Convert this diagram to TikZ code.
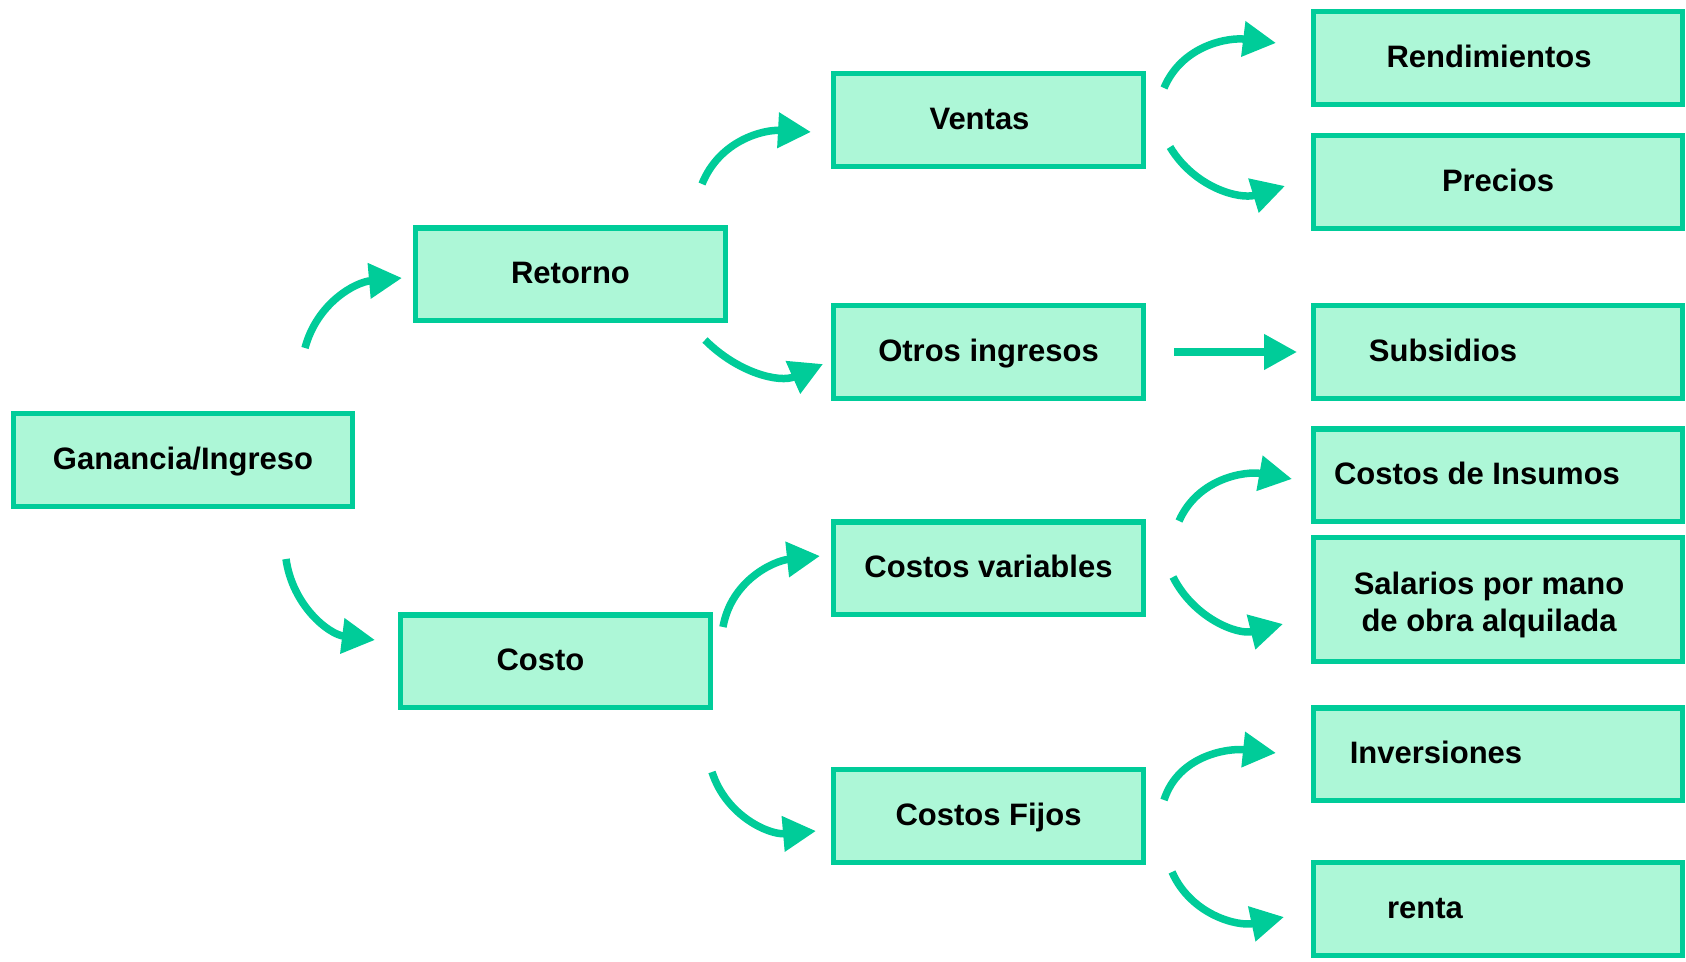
\documentclass[tikz,border=0pt]{standalone}
\usepackage{fontspec}
\setmainfont{Liberation Sans}
\usetikzlibrary{arrows.meta}
\definecolor{Mint}{HTML}{ADF7D7}
\definecolor{Jade}{HTML}{00CC99}

\begin{document}
\begin{tikzpicture}[x=1pt, y=1pt, font=\bfseries\fontsize{31}{36.7}\selectfont,
        cell/.style={draw=Jade, fill=Mint, line width=5.3pt, minimum width=309.7pt, minimum height=92.7pt, inner sep=0pt},
        box/.style={cell, text height=19pt, text depth=0pt},
        wide/.style={minimum width=368.7pt},
        link/.style={Jade, line width=7.5pt, -{Triangle[length=33pt, width=34pt]}}]
            \useasboundingbox (0, 0) rectangle (1686, 961);
            \node[box, minimum width=338.7pt] (gan) at (183, 501) {Ganancia/Ingreso};
            \node[box] (ret) at (570.5, 686.5) {Retorno};
            \node[box] (cos) at (555.5, 299.5) {Costo\hspace*{30pt}};
            \node[box] (ven) at (988.5, 841) {Ventas\hspace*{18pt}};
            \node[box] (otr) at (988.5, 609) {Otros ingresos};
            \node[box] (var) at (988.5, 392.5) {Costos variables};
            \node[box] (fij) at (988.5, 145) {Costos Fijos};
            \node[box, wide] (ren) at (1498, 903) {Rendimientos\hspace*{18pt}};
            \node[box, wide] (pre) at (1498, 779) {Precios};
            \node[box, wide] (sub) at (1498, 609) {Subsidios\hspace*{110pt}};
            \node[box, wide] (ins) at (1498, 485.5) {Costos de Insumos\hspace*{42pt}};
            \node[cell, wide, minimum height=123.7pt, align=center] (sal) at (1498, 361.5) {\rule{0pt}{33pt}Salarios por mano\hspace*{18pt}\\de obra alquilada\hspace*{18pt}};
            \node[box, wide] (inv) at (1498, 206.5) {Inversiones\hspace*{124pt}};
            \node[box, wide] (rnt) at (1498, 52) {renta\hspace*{146pt}};
            % curved links between the levels
            \draw[link] ([shift={(122, 112)}]gan.center) to[out=75, in=185] ([shift={(-168.5, -3.5)}]ret.center);
            \draw[link] ([shift={(103, -99)}]gan.center) to[out=-82, in=173] ([shift={(-180.5, 21.5)}]cos.center);
            \draw[link] ([shift={(131.5, 90.5)}]ret.center) to[out=68, in=177] ([shift={(-177.5, -12)}]ven.center);
            \draw[link] ([shift={(134.5, -65.5)}]ret.center) to[out=-45, in=204] ([shift={(-165.5, -12)}]otr.center);
            \draw[link] ([shift={(167.5, 34.5)}]cos.center) to[out=80, in=186] ([shift={(-168.5, 12.5)}]var.center);
            \draw[link] ([shift={(156.5, -110.5)}]cos.center) to[out=-72, in=185] ([shift={(-172.5, -15)}]fij.center);
            \draw[link] ([shift={(175.5, 32)}]ven.center) to[out=67, in=173] ([shift={(-222, 15)}]ren.center);
            \draw[link] ([shift={(181.5, -27)}]ven.center) to[out=-59, in=197] ([shift={(-213, -4)}]pre.center);
            \draw[link] ([xshift=185.5pt]otr.center) -- ([xshift=-201pt]sub.center);
            \draw[link] ([shift={(190.5, 47.5)}]var.center) to[out=66, in=170] ([shift={(-206, -3.5)}]ins.center);
            \draw[link] ([shift={(184.5, -8.5)}]var.center) to[out=-63, in=194] ([shift={(-215, -24.5)}]sal.center);
            \draw[link] ([shift={(175.5, 16)}]fij.center) to[out=72, in=174] ([shift={(-222, 1.5)}]inv.center);
            \draw[link] ([shift={(183.5, -56)}]fij.center) to[out=-66, in=192] ([shift={(-214, -8)}]rnt.center);
        \end{tikzpicture}
\end{document}
